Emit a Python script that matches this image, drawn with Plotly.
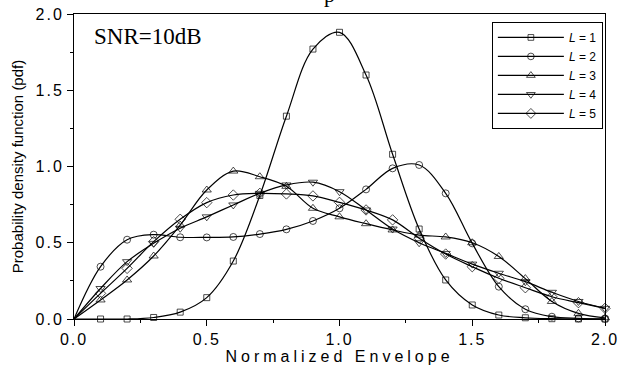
import plotly.graph_objects as go

x_vals = [0.0, 0.1, 0.2, 0.3, 0.4, 0.5, 0.6, 0.7, 0.8, 0.9, 1.0,
          1.1, 1.2, 1.3, 1.4, 1.5, 1.6, 1.7, 1.8, 1.9, 2.0]

L1 = [0.0, 0.0, 0.0, 0.01, 0.045, 0.14, 0.38, 0.81, 1.33, 1.77, 1.88,
      1.60, 1.08, 0.59, 0.256, 0.092, 0.026, 0.008, 0.002, 0.0, 0.0]
L2 = [0.0, 0.343, 0.52, 0.553, 0.536, 0.535, 0.538, 0.557, 0.588, 0.643, 0.726,
      0.85, 0.988, 1.01, 0.824, 0.496, 0.212, 0.064, 0.015, 0.004, 0.001]
L3 = [0.0, 0.125, 0.256, 0.413, 0.616, 0.846, 0.97, 0.933, 0.87, 0.726, 0.67,
      0.625, 0.584, 0.55, 0.538, 0.50, 0.41, 0.265, 0.115, 0.037, 0.008]
L4 = [0.0, 0.2, 0.376, 0.496, 0.595, 0.67, 0.748, 0.824, 0.879, 0.897, 0.835,
      0.715, 0.59, 0.50, 0.43, 0.36, 0.30, 0.245, 0.175, 0.115, 0.07]
L5 = [0.0, 0.168, 0.332, 0.507, 0.654, 0.763, 0.813, 0.824, 0.82, 0.807, 0.765,
      0.715, 0.65, 0.53, 0.426, 0.343, 0.267, 0.205, 0.146, 0.107, 0.07]

series = [L1, L2, L3, L4, L5]
names = ["<i>L</i> = 1", "<i>L</i> = 2", "<i>L</i> = 3", "<i>L</i> = 4", "<i>L</i> = 5"]
symbols = ["square-open", "circle-open", "triangle-up-open", "triangle-down-open", "diamond-open"]
msizes = [6, 7, 8, 8, 8]

fig = go.Figure()
for ys, nm, sym, ms in zip(series, names, symbols, msizes):
    sizes = [0] + [ms] * (len(x_vals) - 1)
    fig.add_trace(go.Scatter(
        x=x_vals, y=ys, name=nm, mode="lines+markers",
        line=dict(color="black", width=1.2, shape="spline", smoothing=1.0),
        marker=dict(symbol=sym, size=sizes, color="black", line=dict(width=1, color="black")),
        cliponaxis=False,
    ))

axis_font = dict(family="Liberation Sans, Arial", size=16, color="black")
fig.update_layout(
    width=618, height=372,
    margin=dict(l=74, r=13, t=14, b=53),
    paper_bgcolor="white", plot_bgcolor="white",
    showlegend=True,
    legend=dict(
        x=0.996, y=0.974, xanchor="right", yanchor="top",
        bgcolor="white", bordercolor="black", borderwidth=1,
        font=dict(family="Liberation Sans, Arial", size=12, color="black"),
        itemwidth=66, tracegroupgap=0,
    ),
    xaxis=dict(
        range=[0, 2], dtick=0.5, tick0=0, tickformat=".1f",
        ticks="outside", ticklen=6, tickcolor="black", tickwidth=1,
        minor=dict(dtick=0.25, ticks="outside", ticklen=3, tickcolor="black"),
        showline=True, linecolor="black", linewidth=1, mirror=True,
        showgrid=False, zeroline=False, tickfont=axis_font,
        ticklabeloverflow="allow", automargin=False,
        title=dict(text="Normalized Envelope", font=dict(family="Liberation Sans, Arial", size=16, color="black"), standoff=0),
    ),
    yaxis=dict(
        range=[0, 2], dtick=0.5, tick0=0, tickformat=".1f",
        ticks="outside", ticklen=6, tickcolor="black", tickwidth=1,
        minor=dict(dtick=0.25, ticks="outside", ticklen=3, tickcolor="black"),
        showline=True, linecolor="black", linewidth=1, mirror=True,
        showgrid=False, zeroline=False, tickfont=axis_font,
        ticklabeloverflow="allow", automargin=False,
        title=dict(text="Probability density function (pdf)", font=dict(family="Liberation Sans, Arial", size=15, color="black"), standoff=14),
    ),
    annotations=[
        dict(text="SNR=10dB", xref="paper", yref="paper", x=0.033, y=0.925,
             xanchor="left", yanchor="middle", showarrow=False,
             font=dict(family="Liberation Serif, Times New Roman", size=23, color="black")),
        dict(text="p", xref="paper", yref="paper", x=0.481, y=1.016,
             xanchor="center", yanchor="bottom", showarrow=False,
             font=dict(family="Liberation Serif, Times New Roman", size=22, color="black")),
    ],
)

post = """
var s=document.createElement('style');
s.textContent='.xtick text,.ytick text{letter-spacing:2px}.xtitle{letter-spacing:4px}';
document.head.appendChild(s);
"""
fig.write_html("out.html", post_script=post)
